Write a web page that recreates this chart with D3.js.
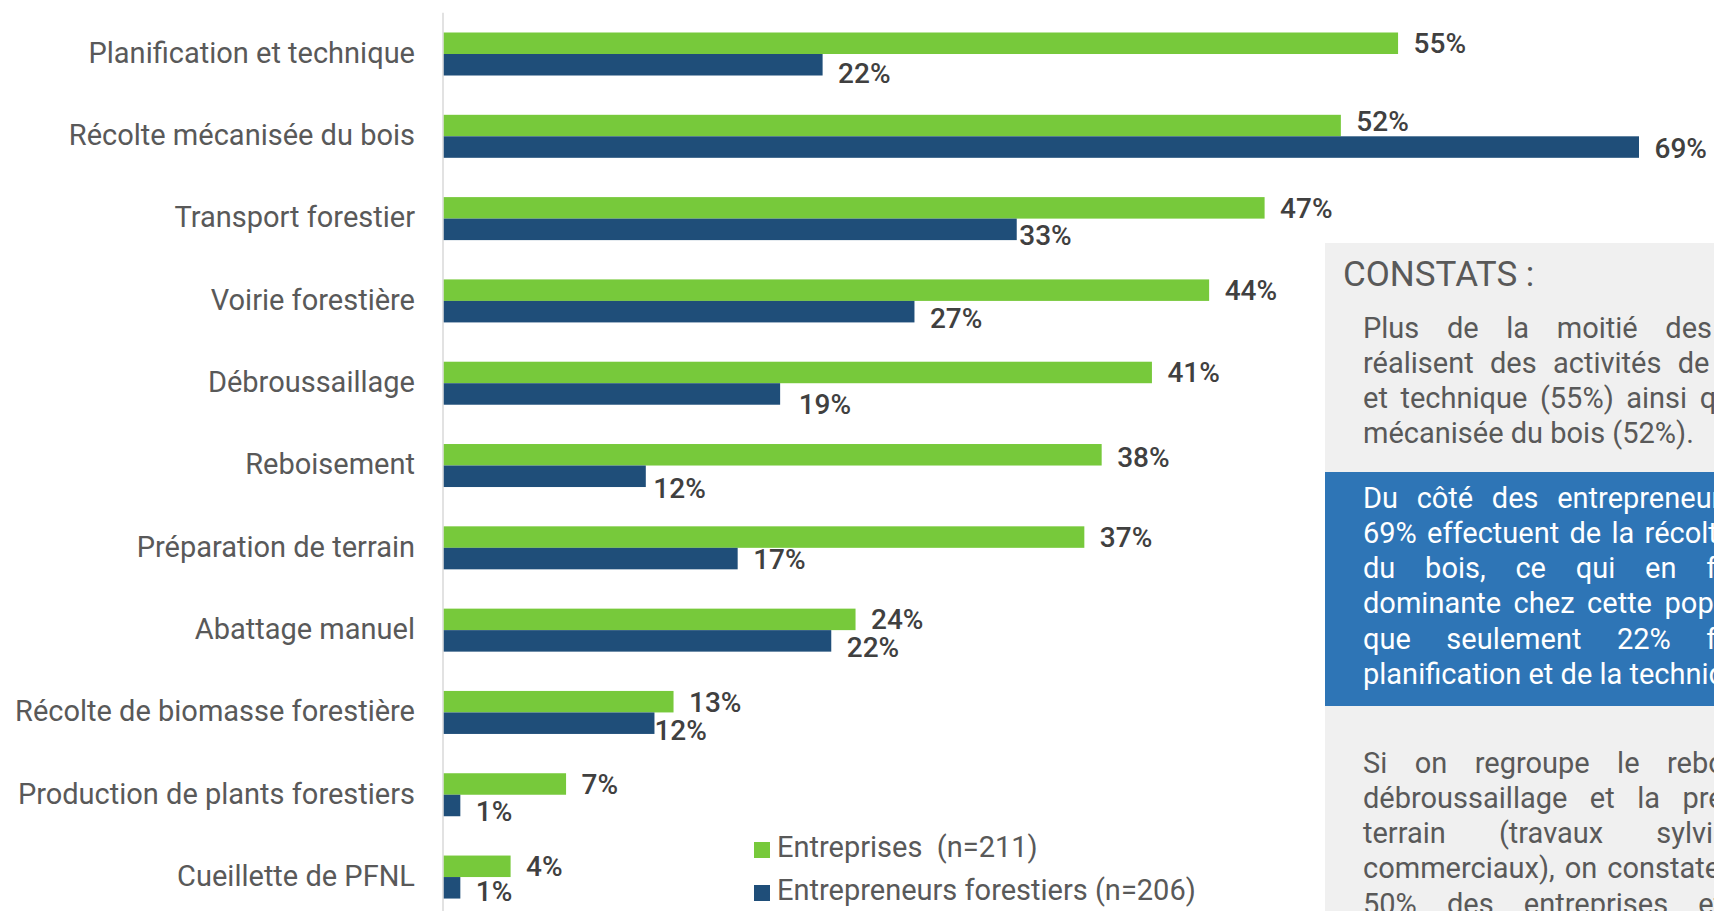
<!DOCTYPE html>
<html><head><meta charset="utf-8">
<script src="https://cdn.jsdelivr.net/npm/d3@7"></script>
<style>
html,body{margin:0;padding:0;background:#fff;overflow:hidden;}
#wrap{position:relative;width:1714px;height:911px;overflow:hidden;font-family:Roboto,"Noto Sans",sans-serif;}
#wrap svg{position:absolute;left:0;top:0;}
.box{position:absolute;}
.ln{position:absolute;white-space:nowrap;font-family:Roboto,sans-serif;}
</style></head>
<body><div id="wrap"></div>
<script>
// ---------- data ----------
const categories = [
  "Planification et technique",
  "Récolte mécanisée du bois",
  "Transport forestier",
  "Voirie forestière",
  "Débroussaillage",
  "Reboisement",
  "Préparation de terrain",
  "Abattage manuel",
  "Récolte de biomasse forestière",
  "Production de plants forestiers",
  "Cueillette de PFNL"
];
const seriesNames = ["Entreprises  (n=211)", "Entrepreneurs forestiers (n=206)"];
// values (%); labels show rounded values
const entreprises   = [55.1, 51.8, 47.4, 44.2, 40.9, 38.0, 37.0, 23.8, 13.3, 7.1, 3.9];
const entrepreneurs = [21.9, 69.0, 33.1, 27.2, 19.45, 11.7, 17.0, 22.4, 12.2, 1.0, 1.0];

const constatsTitle = "CONSTATS :";
const para1Lines = [
  "Plus de la moitié des entreprises",
  "réalisent des activités de planification",
  "et technique (55%) ainsi que la récolte",
  "mécanisée du bois (52%)."
];
const para2Lines = [
  "Du côté des entrepreneurs forestiers,",
  "69% effectuent de la récolte mécanisée",
  "du bois, ce qui en fait l’activité",
  "dominante chez cette population, alors",
  "que seulement 22% font de la",
  "planification et de la technique."
];
const para3Lines = [
  "Si on regroupe le reboisement, le",
  "débroussaillage et la préparation de",
  "terrain (travaux sylvicoles non",
  "commerciaux), on constate que plus de",
  "50% des entreprises et 41% des"
];

// label placement tweaks (manual nudges as in original)
const entLabelDy = [0, -5, 0, 0, 0, 2, 0, 0, 0, 0, 0];
const forLabelDy = [8, 1, 6, 6, 10.4, 11.5, 0, 6, 6.5, 5.5, 3.5];
const forLabelDx = [0, 0, -13, 0, 3, -8, 0, 0, -15.5, 0, 0];

// ---------- styles ----------
const colors = ["#77C93B", "#1F4E79"];
const W = 1714, H = 911;

const wrap = d3.select("#wrap");
const svg = wrap.append("svg").attr("width", W).attr("height", H);

const x = d3.scaleLinear().domain([0, 69]).range([443, 1639]);
const y = d3.scaleBand().domain(categories).range([12.85, 918.2])
  .paddingInner(0.4775).paddingOuter(0.23875);
const sub = d3.scaleBand().domain([0, 1]).range([0, y.bandwidth()]);

// axis line
svg.append("line").attr("x1", x(0)).attr("x2", x(0))
  .attr("y1", y.range()[0]).attr("y2", H)
  .attr("stroke", "#D9D9D9").attr("stroke-width", 1.5);

const rows = categories.map((c, i) => ({c, i, v: [entreprises[i], entrepreneurs[i]]}));

const g = svg.append("g");
rows.forEach(r => {
  r.v.forEach((v, s) => {
    g.append("rect")
      .attr("x", x(0) + 0.75)
      .attr("y", y(r.c) + sub(s))
      .attr("width", x(v) - x(0) - 0.75)
      .attr("height", sub.bandwidth())
      .attr("fill", colors[s]);
  });
});

// category labels
const catFs = 29;
svg.append("g").selectAll("text").data(categories).join("text")
  .attr("x", 415)
  .attr("y", d => y(d) + y.bandwidth() / 2 + catFs * 0.711 / 2 - 1.5)
  .attr("text-anchor", "end")
  .attr("font-family", "Roboto, sans-serif")
  .attr("font-size", catFs)
  .attr("fill", "#595959")
  .text(d => d);

// value labels
const valFs = 28;
rows.forEach(r => {
  r.v.forEach((v, s) => {
    const cy = y(r.c) + sub(s) + sub.bandwidth() / 2;
    const dy = s === 0 ? entLabelDy[r.i] : forLabelDy[r.i];
    const dx = s === 0 ? 0 : forLabelDx[r.i];
    svg.append("text")
      .attr("x", x(v) + 15.5 + dx)
      .attr("y", cy + valFs * 0.711 / 2 + dy)
      .attr("font-family", "Roboto, sans-serif")
      .attr("font-weight", 500)
      .attr("font-size", valFs)
      .attr("fill", "#404040")
      .text(Math.round(v) + "%");
  });
});

// legend
const leg = svg.append("g");
seriesNames.forEach((n, s) => {
  leg.append("rect").attr("x", 754).attr("y", 842 + s * 43)
    .attr("width", 16).attr("height", 16).attr("fill", colors[s]);
  leg.append("text").attr("x", 777).attr("y", 857 + s * 43)
    .attr("font-family", "Roboto, sans-serif").attr("font-size", 29)
    .attr("fill", "#595959").style("white-space", "pre").text(n);
});

// ---------- right panel ----------
wrap.append("div").attr("class", "box")
  .style("left", "1325px").style("top", "243px")
  .style("width", "700px").style("height", "700px")
  .style("background", "#F0F0F0");
wrap.append("div").attr("class", "box")
  .style("left", "1325px").style("top", "472px")
  .style("width", "700px").style("height", "234px")
  .style("background", "#2E75B6");

function topFor(baseline, fs, lh) {
  const asc = 0.9277 * fs, desc = 0.2441 * fs;
  return baseline - ((lh - (asc + desc)) / 2 + asc);
}

wrap.append("div").attr("class", "ln")
  .style("left", "1343px")
  .style("top", topFor(286, 35, 41) + "px")
  .style("font-size", "35px").style("line-height", "41px")
  .style("color", "#595959")
  .text(constatsTitle);

const textW = 521;
function addPara(lines, firstBaseline, color, lastIsFull) {
  const step = 35.3;
  lines.forEach((t, k) => {
    const d = wrap.append("div").attr("class", "ln")
      .style("left", "1363px")
      .style("top", topFor(firstBaseline + k * step, 29, 35) + "px")
      .style("font-size", "29px").style("line-height", "35px")
      .style("color", color)
      .text(t);
    const last = k === lines.length - 1 && !lastIsFull;
    if (!last) {
      const nat = d.node().getBoundingClientRect().width;
      const spaces = (t.match(/ /g) || []).length;
      if (spaces > 0) d.style("word-spacing", ((textW - nat) / spaces) + "px");
    }
  });
}
addPara(para1Lines, 338, "#595959", false);
addPara(para2Lines, 508, "#FFFFFF", false);
addPara(para3Lines, 773, "#595959", true);
</script>
</body></html>
